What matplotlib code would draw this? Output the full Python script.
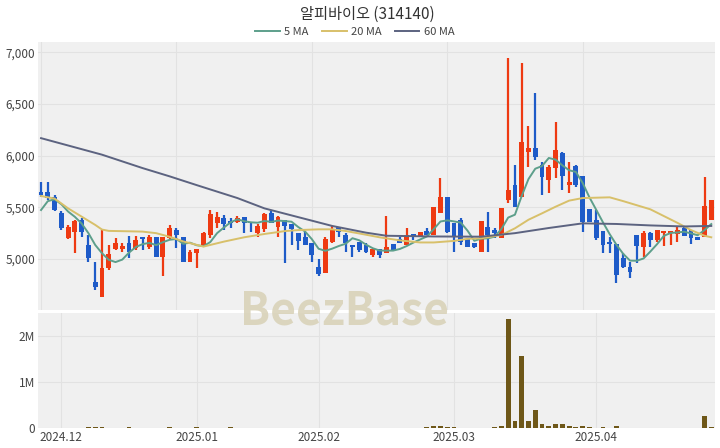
import numpy as np
import matplotlib
matplotlib.use('Agg')
import matplotlib.pyplot as plt

plt.rcParams['font.family'] = ['Noto Sans CJK KR', 'DejaVu Sans']

title = '알피바이오 (314140)'

opens = [5651, 5651, 5603, 5445, 5203, 5264, 5377, 5135, 4780, 4635,
         4910, 5094, 5094, 5158, 5103, 5210, 5119, 5210, 5016, 5200,
         5280, 5216, 4974, 5055, 5113, 5232, 5345, 5394, 5368, 5361,
         5410, 5361, 5250, 5287, 5448, 5313, 5377, 5339, 5255, 5210,
         5158, 4920, 4868, 5168, 5306, 5232, 5135, 5168, 5135, 5039,
         5094, 5061, 5142, 5190, 5135, 5242, 5222, 5274, 5232, 5442,
         5603, 5345, 5377, 5190, 5158, 5064, 5313, 5280, 5200, 5571,
         5716, 5603, 6039, 6072, 5910, 5765, 5878, 6023, 5716, 5900,
         5803, 5481, 5377, 5274, 5168, 5145, 5006, 4926, 5232, 5119,
         5255, 5184, 5255, 5255, 5242, 5297, 5280, 5216, 5216, 5377]
highs = [5748, 5745, 5620, 5460, 5330, 5377, 5397, 5232, 4974, 5280,
         5140, 5203, 5158, 5222, 5222, 5210, 5232, 5210, 5216, 5329,
         5300, 5216, 5087, 5094, 5265, 5474, 5458, 5426, 5394, 5416,
         5410, 5361, 5340, 5448, 5465, 5416, 5377, 5340, 5255, 5265,
         5158, 4997, 5210, 5320, 5306, 5248, 5135, 5168, 5152, 5094,
         5094, 5416, 5142, 5210, 5297, 5242, 5265, 5297, 5506, 5781,
         5603, 5345, 5394, 5190, 5158, 5368, 5458, 5297, 5490, 6943,
         5910, 6894, 6287, 6610, 5942, 5910, 6329, 6040, 5942, 5910,
         5803, 5481, 5474, 5274, 5216, 5145, 5055, 4974, 5232, 5274,
         5265, 5280, 5274, 5274, 5320, 5320, 5280, 5216, 5797, 5571]
lows = [5600, 5570, 5460, 5280, 5190, 5058, 5216, 4974, 4700, 4635,
        4890, 5087, 5070, 5010, 5087, 5087, 5094, 5016, 4835, 5190,
        5106, 4974, 4974, 4910, 5113, 5200, 5297, 5280, 5297, 5345,
        5248, 5265, 5210, 5265, 5351, 5216, 4958, 5135, 5087, 5135,
        4974, 4835, 4868, 5152, 5210, 5070, 5016, 5070, 5055, 5022,
        5006, 5061, 5087, 5152, 5135, 5184, 5222, 5232, 5232, 5442,
        5248, 5070, 5135, 5119, 5106, 5064, 5070, 5200, 5200, 5539,
        5506, 5603, 5894, 5958, 5620, 5636, 5781, 5668, 5636, 5700,
        5265, 5361, 5184, 5061, 5055, 4771, 4910, 4813, 4958, 5022,
        5113, 5168, 5126, 5135, 5168, 5222, 5145, 5184, 5216, 5377]
closes = [5620, 5590, 5474, 5300, 5310, 5368, 5264, 5006, 4732, 4910,
          5050, 5152, 5126, 5070, 5184, 5190, 5210, 5016, 5216, 5297,
          5232, 4974, 5070, 5094, 5248, 5435, 5403, 5339, 5351, 5394,
          5345, 5345, 5320, 5435, 5351, 5410, 5320, 5287, 5177, 5135,
          5039, 4855, 5190, 5280, 5265, 5152, 5119, 5087, 5070, 5094,
          5039, 5113, 5087, 5152, 5232, 5210, 5265, 5232, 5506, 5603,
          5265, 5216, 5168, 5119, 5113, 5368, 5232, 5248, 5490, 5668,
          5506, 6136, 6072, 5990, 5797, 5894, 6055, 5800, 5748, 5716,
          5361, 5361, 5200, 5135, 5145, 4845, 4920, 4877, 5126, 5255,
          5184, 5280, 5274, 5265, 5280, 5222, 5200, 5184, 5513, 5571]
volumes = [9000, 6000, 7000, 5000, 4000, 6000, 5000, 12000, 15000, 14000,
           6000, 5000, 4000, 11000, 10000, 5000, 4000, 6000, 5000, 13000,
           6000, 5000, 4000, 14000, 6000, 9000, 5000, 4000, 11000, 6000,
           5000, 4000, 3000, 5000, 4000, 6000, 5000, 4000, 5000, 6000,
           4000, 5000, 6000, 7000, 5000, 4000, 6000, 5000, 4000, 3000,
           5000, 9000, 4000, 5000, 4000, 5000, 6000, 15000, 37000, 51000,
           22000, 15000, 8000, 7000, 9000, 10000, 8000, 12000, 37000, 2360000,
           161000, 1575000, 147000, 388000, 88000, 44000, 88000, 81000, 37000, 22000,
           51000, 22000, 10000, 12000, 8000, 44000, 9000, 7000, 8000, 10000,
           9000, 8000, 7000, 8000, 9000, 7000, 8000, 6000, 264000, 29000]

ma5 = [5474, 5560, 5578, 5530, 5459, 5408, 5343, 5250, 5136, 5056,
       4992, 4970, 4994, 5062, 5116, 5144, 5156, 5134, 5163, 5186,
       5194, 5147, 5158, 5133, 5124, 5164, 5250, 5304, 5355, 5384,
       5366, 5355, 5351, 5368, 5359, 5372, 5367, 5361, 5309, 5266,
       5192, 5099, 5079, 5100, 5126, 5148, 5201, 5181, 5139, 5104,
       5082, 5081, 5081, 5097, 5125, 5159, 5189, 5218, 5289, 5363,
       5374, 5364, 5352, 5274, 5176, 5197, 5200, 5216, 5290, 5401,
       5429, 5610, 5774, 5874, 5900, 5978, 5962, 5907, 5859, 5843,
       5736, 5597, 5477, 5355, 5240, 5137, 5049, 4984, 4983, 5005,
       5072, 5144, 5224, 5252, 5257, 5264, 5248, 5230, 5280, 5338]

ma20_idx = [0, 2, 4, 6, 8, 9, 10, 13, 15, 17, 19, 21, 24, 27, 30, 33, 36, 38,
            41, 43, 45, 48, 50, 53, 56, 58, 61, 63, 65, 68, 70, 72, 74, 76,
            78, 80, 84, 86, 90, 94, 96, 98, 99]
ma20 = [5610, 5585, 5490, 5410, 5330, 5285, 5272, 5268, 5265, 5250, 5215,
        5170, 5120, 5168, 5210, 5242, 5270, 5280, 5287, 5287, 5271, 5235,
        5210, 5180, 5160, 5160, 5175, 5195, 5200, 5232, 5297, 5380, 5442,
        5506, 5565, 5590, 5597, 5560, 5481, 5350, 5280, 5225, 5210]

ma60_idx = [0, 9, 15, 19, 23, 29, 33, 38, 43, 48, 51, 58, 65, 70, 75, 80,
            85, 90, 95, 99]
ma60 = [6170, 6010, 5880, 5800, 5715, 5590, 5490, 5405, 5320, 5255, 5225,
        5218, 5216, 5250, 5300, 5345, 5339, 5325, 5315, 5320]

date_pos = [3, 23, 41, 61, 82]
date_labels = ['2024.12', '2025.01', '2025.02', '2025.03', '2025.04']

up_color = '#ee3a12'
down_color = '#1e5bc8'
bg = '#f0f0f0'
grid_c = '#e2e2e2'

W, H = 720, 448
fig = plt.figure(figsize=(W / 100, H / 100), dpi=100)
ax = fig.add_axes([38 / W, 1 - 310 / H, (715 - 38) / W, (310 - 42) / H])
axv = fig.add_axes([38 / W, 1 - 428 / H, (715 - 38) / W, (428 - 313) / H])

x = np.arange(len(closes))
o = np.array(opens)
c = np.array(closes)
colors = np.where(c >= o, up_color, down_color)

ax.vlines(x, lows, highs, colors=colors, linewidth=1.6, zorder=3)
body_bottom = np.minimum(o, c)
body_h = np.maximum(np.abs(c - o), 12)
ax.bar(x, body_h, bottom=body_bottom, width=0.72, color=colors, zorder=4)

ax.plot(x, ma5, color='#5d9f8b', linewidth=1.4, zorder=5, label='5 MA')
ax.plot(ma20_idx, ma20, color='#d8c06a', linewidth=1.4, zorder=5, label='20 MA')
ax.plot(ma60_idx, ma60, color='#5c6380', linewidth=1.4, zorder=5, label='60 MA')

xlim = (-0.45, 99.55)
ax.set_xlim(*xlim)
ax.set_ylim(4506, 7101)
ax.set_facecolor(bg)
ax.set_yticks([5000, 5500, 6000, 6500, 7000])
ax.set_yticklabels(['5,000', '5,500', '6,000', '6,500', '7,000'])
ax.set_xticks([0, 20, 40, 60, 80])
ax.tick_params(axis='x', length=0, labelbottom=False)
ax.tick_params(axis='y', length=0, pad=2, labelsize=8.5, labelcolor='#444444')
ax.grid(True, color=grid_c, linewidth=0.8, zorder=0)
ax.set_axisbelow(True)
for s in ax.spines.values():
    s.set_visible(False)

axv.bar(x, volumes, width=0.72, color='#6e5718', zorder=3)
axv.set_xlim(*xlim)
axv.set_ylim(0, 2.5e6)
axv.set_facecolor(bg)
axv.set_yticks([0, 1e6, 2e6])
axv.set_yticklabels(['0', '1M', '2M'])
axv.set_xticks(date_pos)
axv.set_xticklabels(date_labels)
axv.tick_params(axis='both', length=0, labelsize=8.5, labelcolor='#444444')
axv.tick_params(axis='y', pad=2)
axv.tick_params(axis='x', pad=2)
axv.grid(True, color=grid_c, linewidth=0.8, zorder=0)
axv.set_axisbelow(True)
for s in axv.spines.values():
    s.set_visible(False)

fig.text(0.51, 1 - 14 / H, title, ha='center', va='center', fontsize=11,
         color='#333333', fontweight='light')
fig.legend(loc='center', bbox_to_anchor=(0.493, 1 - 32 / H), ncol=3, frameon=False,
           fontsize=8, handlelength=2.2, columnspacing=1.2, handletextpad=0.4,
           labelcolor='#444444')

fig.text(345 / W, 1 - 311 / H, 'BeezBase', ha='center', va='center', fontsize=32,
         fontweight='bold', color='#d8d1b6', alpha=0.85, zorder=10)

fig.savefig('out.png', dpi=100, facecolor='white')
